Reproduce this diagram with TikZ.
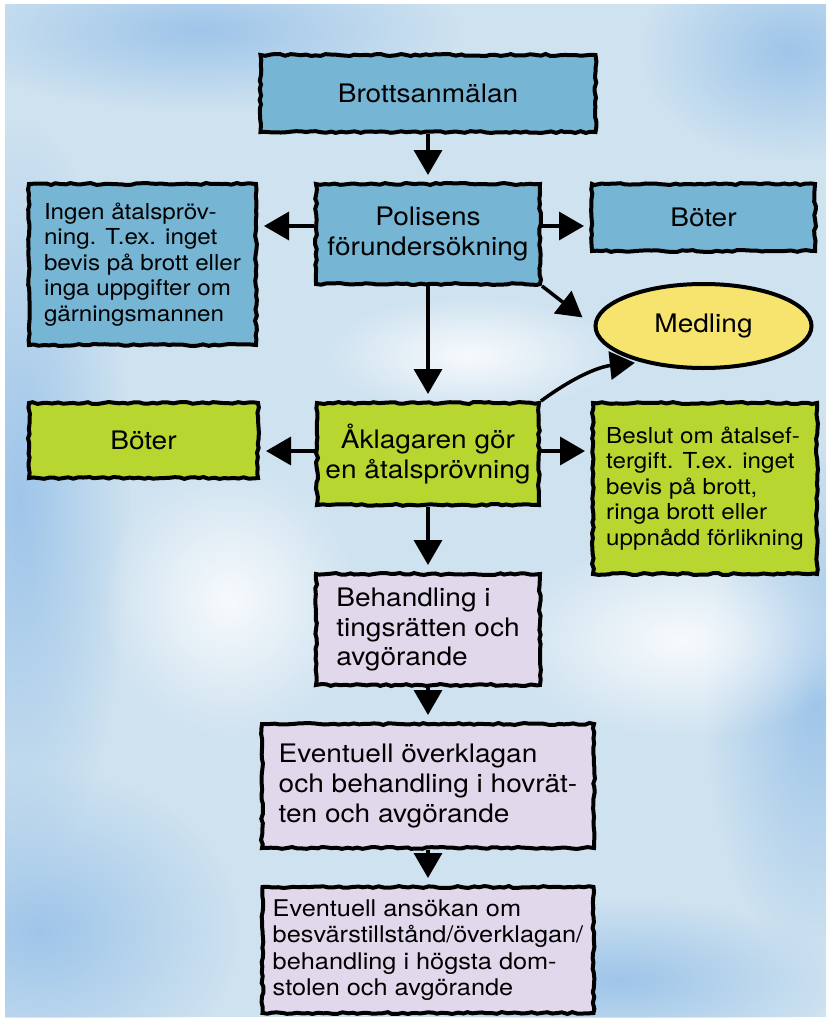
\documentclass[tikz,border=0pt]{standalone}
\usepackage{fontspec}
\setmainfont[FakeStretch=1.1]{TeX Gyre Heros}
\usepackage{tikz}
\usetikzlibrary{arrows.meta,positioning,shapes.geometric,decorations.pathmorphing,fadings}

\definecolor{bgblue}{RGB}{206,226,240}
\definecolor{blot}{RGB}{150,192,232}
\definecolor{boxblue}{RGB}{118,182,212}
\definecolor{boxgreen}{RGB}{184,214,48}
\definecolor{boxyellow}{RGB}{246,228,110}
\definecolor{boxlilac}{RGB}{226,216,236}

\tikzfading[name=soft, inner color=transparent!15, outer color=transparent!100]

\begin{document}
\begin{tikzpicture}[x=1pt,y=1pt,node distance=40pt,>={Triangle[length=25pt,width=28pt]},auto]
		\tikzstyle{box}=[rectangle, draw=black, line width=4pt, decorate, decoration={random steps,segment length=5pt,amplitude=1pt}, font=\fontsize{25.5}{29.5}\selectfont, align=center, inner sep=0pt]
		\tikzstyle{blue box}=[box, fill=boxblue]
		\tikzstyle{green box}=[box, fill=boxgreen]
		\tikzstyle{lilac box}=[box, fill=boxlilac, align=left]
		\tikzstyle{small text}=[font=\fontsize{22}{25.5}\selectfont, align=left]
		\tikzstyle{oval}=[ellipse, draw=black, line width=4pt, fill=boxyellow, font=\fontsize{25.5}{29.5}\selectfont, inner sep=0pt]
		\tikzstyle{pre}=[<-, line width=3.5pt, line join=round, shorten <=7pt]
		\tikzstyle{post}=[->, line width=3.5pt, line join=round, shorten >=6pt]
		\pgfmathsetseed{11}

		% paper and watercolour sky
		\useasboundingbox (0,0) rectangle (828,-1020);
		\fill [white] (0,0) rectangle (828,-1020);
		\begin{scope}
			\clip (5,-4) rectangle (826,-1017);
			\fill [bgblue] (5,-4) rectangle (826,-1017);
			\fill [blot, path fading=soft] (790,-50) ellipse (150 and 110);
			\fill [blot, path fading=soft] (200,-30) ellipse (260 and 80);
			\fill [blot, path fading=soft] (20,-500) ellipse (110 and 380);
			\fill [blot, path fading=soft] (40,-930) ellipse (200 and 160);
			\fill [blot, path fading=soft] (815,-700) ellipse (110 and 260);
			\fill [blot, path fading=soft] (620,-980) ellipse (220 and 80);
			\fill [white, path fading=soft] (680,-640) ellipse (180 and 100);
			\fill [white, path fading=soft] (470,-355) ellipse (150 and 60);
			\fill [white, path fading=soft] (230,-600) ellipse (130 and 140);
		\end{scope}

		\node [blue box, minimum width=335pt, minimum height=77pt] (brott) at (428,-93.5) {Brottsanmälan};
		\node [blue box, minimum width=224pt, minimum height=100pt] (polis) [below=48pt of brott] {Polisens\\förundersökning}
		edge [pre]             (brott);
		\node [blue box, small text, minimum width=227pt, minimum height=161pt] (ingen) [left=56pt of polis.north west, anchor=north east] {Ingen åtalspröv-\\ning. T.ex. inget\\bevis på brott eller\\inga uppgifter om\\gärningsmannen};
		\node [blue box, minimum width=223pt, minimum height=67pt] (bot1) [right=48pt of polis.north east, anchor=north west] {Böter};
		\node [oval, minimum width=216pt, minimum height=84pt] (medling) [below=29pt of bot1] {Medling};

		\node [green box, minimum width=222pt, minimum height=102pt] (aklag) [below=115pt of polis] {Åklagaren gör\\en åtalsprövning}
		edge [pre]             (polis);
		\node [green box, minimum width=229pt, minimum height=75pt] (bot2) [left=55pt of aklag.north west, anchor=north east] {Böter};
		\node [green box, small text, minimum width=224pt, minimum height=171pt] (beslut) [right=50pt of aklag.north east, anchor=north west] {Beslut om åtalsef-\\tergift. T.ex. inget\\bevis på brott,\\ringa brott eller\\uppnådd förlikning};

		\node [lilac box, minimum width=224pt, minimum height=111pt] (tings) [below=65pt of aklag] {Behandling i\\tingsrätten och\\avgörande}
		edge [pre]             (aklag);
		\node [lilac box, font=\fontsize{25.5}{30}\selectfont, minimum width=332pt, minimum height=124pt] (hovr) [below=35pt of tings] {Eventuell överklagan\\och behandling i hovrät-\\ten och avgörande}
		edge [pre]             (tings);
		\node [lilac box, font=\fontsize{23}{26.5}\selectfont, minimum width=331pt, minimum height=126pt] (hogsta) [below=35pt of hovr] {Eventuell ansökan om\\besvärstillstånd/överklagan/\\behandling i högsta dom-\\stolen och avgörande}
		edge [pre]             (hovr);

		\draw [post] ([yshift=8pt]polis.west) -- ([yshift=8pt]polis.west -| ingen.east);
		\draw [post] ([yshift=8pt]polis.east) -- ([yshift=8pt]polis.east -| bot1.west);
		\draw [post, shorten >=14pt] (polis.south east) -- (medling.west);
		\draw [post] (aklag.north east) to [bend left=15] (medling.210);
		\draw [post] ([yshift=3pt]aklag.west) -- ([yshift=3pt]aklag.west -| bot2.east);
		\draw [post] ([yshift=3pt]aklag.east) -- ([yshift=3pt]aklag.east -| beslut.west);
	\end{tikzpicture}
\end{document}
